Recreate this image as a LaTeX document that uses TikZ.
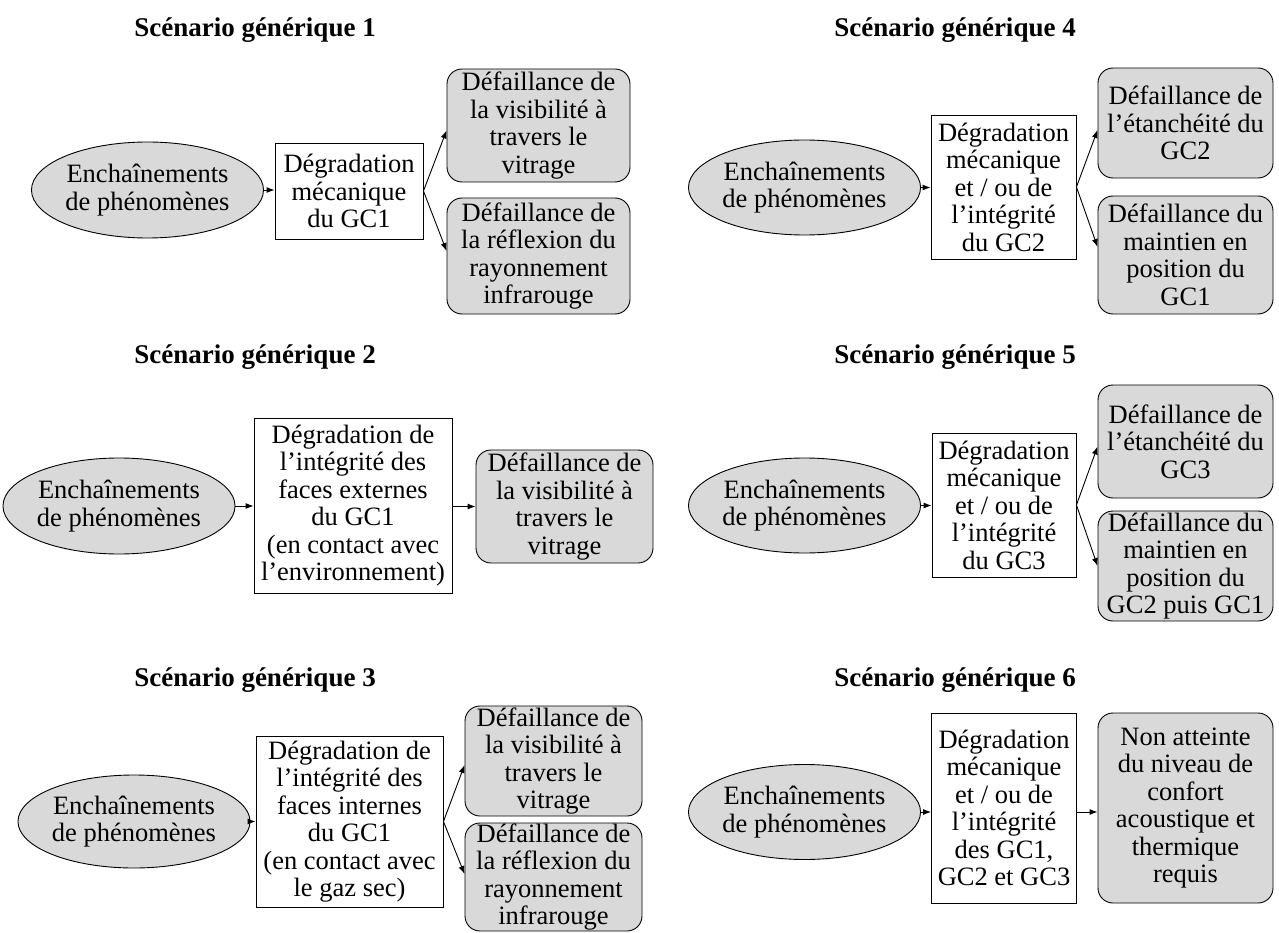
\documentclass[tikz,border=0pt]{standalone}
\usepackage{fontspec}
\setmainfont{Liberation Serif}
\usetikzlibrary{shapes.geometric,arrows.meta}
\definecolor{grisfond}{gray}{0.85}
\tikzset{
  base/.style={align=center, font=\fontsize{26.5}{27.5}\selectfont, inner sep=0pt, line width=0.9pt},
  ell/.style={base, ellipse, draw, fill=grisfond},
  deg/.style={base, rectangle, draw, fill=white},
  fail/.style={base, rectangle, rounded corners=15pt, draw, fill=grisfond},
  titre/.style={font=\fontsize{27}{29}\selectfont\bfseries, inner sep=0pt},
  fl/.style={-{Latex[length=8pt,width=6pt]}, line width=0.9pt},
}
\begin{document}
\begin{tikzpicture}[x=1pt,y=-1pt]
\useasboundingbox (0,0) rectangle (1279,933);
% Titles
\node[titre] (t1) at (255,30) {Scénario générique 1};
\node[titre] (t2) at (255,357) {Scénario générique 2};
\node[titre] (t3) at (255,680) {Scénario générique 3};
\node[titre] (t4) at (955,30) {Scénario générique 4};
\node[titre] (t5) at (955,357) {Scénario générique 5};
\node[titre] (t6) at (955,680) {Scénario générique 6};
% Scenario 1
\node[ell, minimum width=211pt, minimum height=96pt] (e1) at (147.5,190) {Enchaînements\\de phénomènes};
\node[deg, minimum width=148pt, minimum height=96pt] (d1) at (349,191) {Dégradation\\mécanique\\du GC1};
\node[fail, minimum width=183pt, minimum height=113pt] (f1a) at (538.5,125.5) {Défaillance de\\la visibilité à\\travers le\\vitrage};
\node[fail, minimum width=183pt, minimum height=116pt] (f1b) at (538.5,256) {Défaillance de\\la réflexion du\\rayonnement\\infrarouge};
\draw[fl] (e1) -- (d1.west |- e1);
\draw[fl] (d1.east) -- ([yshift=-5pt]f1a.west);
\draw[fl] (d1.east) -- ([yshift=5pt]f1b.west);
% Scenario 2
\node[ell, minimum width=208pt, minimum height=96pt] (e2) at (119,506) {Enchaînements\\de phénomènes};
\node[deg, minimum width=198pt, minimum height=175pt] (d2) at (353,505.5) {Dégradation de\\l’intégrité des\\faces externes\\du GC1\\(en contact avec\\l’environnement)};
\node[fail, minimum width=177pt, minimum height=113pt] (f2) at (564.5,506.5) {Défaillance de\\la visibilité à\\travers le\\vitrage};
\draw[fl] (e2) -- (d2.west |- e2);
\draw[fl] (d2.east |- f2) -- (f2.west);
% Scenario 3
\node[ell, minimum width=202pt, minimum height=93pt] (e3) at (134,821.5) {Enchaînements\\de phénomènes};
\node[deg, minimum width=187pt, minimum height=171pt] (d3) at (349.5,821.5) {Dégradation de\\l’intégrité des\\faces internes\\du GC1\\(en contact avec\\le gaz sec)};
\node[fail, minimum width=177pt, minimum height=110pt] (f3a) at (553.5,761) {Défaillance de\\la visibilité à\\travers le\\vitrage};
\node[fail, minimum width=177pt, minimum height=108pt] (f3b) at (553.5,877) {Défaillance de\\la réflexion du\\rayonnement\\infrarouge};
\draw[fl] (e3) -- (d3.west |- e3);
\draw[fl] (d3.east) -- ([yshift=-4pt]f3a.west);
\draw[fl] (d3.east) -- ([yshift=3pt]f3b.west);
% Scenario 4
\node[ell, minimum width=207pt, minimum height=95pt] (e4) at (804.5,187.5) {Enchaînements\\de phénomènes};
\node[deg, minimum width=145pt, minimum height=144pt] (d4) at (1003.5,187) {Dégradation\\mécanique\\et / ou de\\l’intégrité\\du GC2};
\node[fail, minimum width=175pt, minimum height=110pt] (f4a) at (1185.5,123) {Défaillance de\\l’étanchéité du\\GC2};
\node[fail, minimum width=175pt, minimum height=118pt] (f4b) at (1185.5,255) {Défaillance du\\maintien en\\position du\\GC1};
\draw[fl] (e4) -- (d4.west |- e4);
\draw[fl] (d4.east) -- ([yshift=-7pt]f4a.west);
\draw[fl] (d4.east) -- ([yshift=8pt]f4b.west);
% Scenario 5
\node[ell, minimum width=207pt, minimum height=95pt] (e5) at (804.5,505.5) {Enchaînements\\de phénomènes};
\node[deg, minimum width=144pt, minimum height=144pt] (d5) at (1004,505) {Dégradation\\mécanique\\et / ou de\\l’intégrité\\du GC3};
\node[fail, minimum width=175pt, minimum height=113pt] (f5a) at (1185.5,441.5) {Défaillance de\\l’étanchéité du\\GC3};
\node[fail, minimum width=175pt, minimum height=110pt] (f5b) at (1185.5,566) {Défaillance du\\maintien en\\position du\\GC2 puis GC1};
\draw[fl] (e5) -- (d5.west |- e5);
\draw[fl] (d5.east) -- ([yshift=-5pt]f5a.west);
\draw[fl] (d5.east) -- (f5b.west);
% Scenario 6
\node[ell, minimum width=207pt, minimum height=95pt] (e6) at (804.5,812) {Enchaînements\\de phénomènes};
\node[deg, minimum width=145pt, minimum height=190pt] (d6) at (1004,808) {Dégradation\\mécanique\\et / ou de\\l’intégrité\\des GC1,\\GC2 et GC3};
\node[fail, minimum width=175pt, minimum height=190pt] (f6) at (1185.5,808) {Non atteinte\\du niveau de\\confort\\acoustique et\\thermique\\requis};
\draw[fl] (e6) -- (d6.west |- e6);
\draw[fl] (d6.east |- e6) -- (f6.west |- e6);
\end{tikzpicture}
\end{document}
